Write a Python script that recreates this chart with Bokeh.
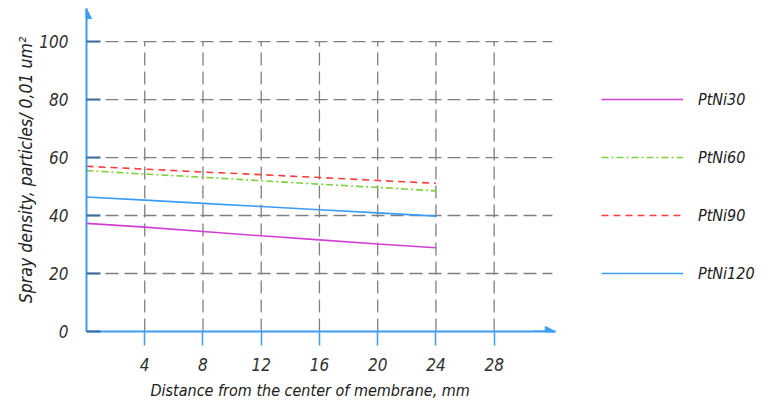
from bokeh.plotting import figure
from bokeh.models import (Range1d, FixedTicker, Legend, LegendItem, Arrow, NormalHead,
                          ColumnDataSource, Title)
from bokeh.embed import file_html
from bokeh.resources import INLINE

# ---- data ----
distance = [0, 4, 8, 12, 16, 20, 24]
ptni30 = [37.3, 36.0, 34.5, 33.0, 31.6, 30.2, 28.9]
ptni60 = [55.5, 54.3, 53.2, 52.0, 50.8, 49.7, 48.5]
ptni90 = [57.0, 56.0, 55.0, 54.1, 53.1, 52.1, 51.1]
ptni120 = [46.4, 45.3, 44.2, 43.1, 42.0, 40.9, 39.8]
series_names = ["PtNi30", "PtNi60", "PtNi90", "PtNi120"]
x_ticks = [4, 8, 12, 16, 20, 24, 28]
y_ticks = [0, 20, 40, 60, 80, 100]
x_label = "Distance from the center of membrane, mm"
y_label = "Spray density, particles/ 0,01 um\u00b2"

FONT = "DejaVu Sans Condensed, DejaVu Sans"
AXIS_BLUE = "#3f9cf5"
GRID_GRAY = "#7f7f7f"
X_AXIS_END = 32.2      # end of the drawn x axis (arrow tip)
X_FRAME_END = 46.5     # frame extends further right to hold the legend
Y_END = 111.4

p = figure(width=763, height=406, output_backend="svg", toolbar_location=None,
           x_range=Range1d(0, X_FRAME_END), y_range=Range1d(0, Y_END),
           min_border_left=86, min_border_right=0, min_border_top=8,
           min_border_bottom=75, outline_line_color=None)

# grids (drawn as dashed segments limited to the chart area)
p.xgrid.visible = False
p.ygrid.visible = False
grid_y = y_ticks[1:]
hsrc = ColumnDataSource(dict(y=grid_y, x0=[0] * len(grid_y),
                             x1=[X_AXIS_END - 0.2] * len(grid_y)))
p.segment(x0="x0", y0="y", x1="x1", y1="y", source=hsrc,
          line_color=GRID_GRAY, line_dash="13 6", line_width=1.3)
vsrc = ColumnDataSource(dict(x=x_ticks, y0=[0] * len(x_ticks),
                             y1=[max(y_ticks)] * len(x_ticks)))
p.segment(x0="x", y0="y0", x1="x", y1="y1", source=vsrc,
          line_color=GRID_GRAY, line_dash="13 6", line_width=1.3)

# axes
for ax in (p.xaxis[0], p.yaxis[0]):
    ax.axis_line_color = AXIS_BLUE
    ax.axis_line_width = 2
    ax.major_label_text_font = FONT
    ax.major_label_text_font_style = "italic"
    ax.major_label_text_font_size = "17px"
    ax.major_label_text_color = "#303030"
    ax.axis_label_text_font = FONT
    ax.axis_label_text_font_style = "italic"
    ax.axis_label_text_font_size = "17.5px"
    ax.axis_label_text_color = "#202020"
    ax.minor_tick_line_color = None

p.xaxis.bounds = (0, X_AXIS_END)
p.xaxis.ticker = FixedTicker(ticks=x_ticks)
p.xaxis.major_tick_line_color = AXIS_BLUE
p.xaxis.major_tick_line_width = 1.5
p.xaxis.major_tick_out = 14
p.xaxis.major_tick_in = 0
p.xaxis.major_label_standoff = 12

p.yaxis.ticker = FixedTicker(ticks=y_ticks)
p.yaxis.major_tick_line_color = "#3d6e9e"
p.yaxis.major_tick_line_width = 2
p.yaxis.major_tick_out = 0
p.yaxis.major_tick_in = 14
p.yaxis.major_label_standoff = 18
p.yaxis.axis_label = y_label
p.yaxis.axis_label_standoff = 0

# x axis title, left-aligned under the chart area
p.add_layout(Title(text=x_label, align="left", offset=64, standoff=11,
                   text_font=FONT, text_font_style="italic",
                   text_font_size="16px", text_color="#202020"), "below")

# arrow heads on axes
p.add_layout(Arrow(end=NormalHead(size=10, fill_color=AXIS_BLUE, line_color=AXIS_BLUE),
                   x_start=0, y_start=Y_END - 4, x_end=0, y_end=Y_END,
                   line_color=AXIS_BLUE, line_width=2))
p.add_layout(Arrow(end=NormalHead(size=10, fill_color=AXIS_BLUE, line_color=AXIS_BLUE),
                   x_start=X_AXIS_END - 1.5, y_start=0, x_end=X_AXIS_END, y_end=0,
                   line_color=AXIS_BLUE, line_width=2))

# series
r30 = p.line(distance, ptni30, line_color="#d23fd2", line_width=1.6)
r60 = p.line(distance, ptni60, line_color="#7fd13b", line_width=1.6, line_dash="7 3 2 3")
r90 = p.line(distance, ptni90, line_color="#ff3b3b", line_width=1.6, line_dash="7 5")
r120 = p.line(distance, ptni120, line_color="#3a9cf7", line_width=1.6)

legend = Legend(items=[LegendItem(label=n, renderers=[r]) for n, r in
                       zip(series_names, [r30, r60, r90, r120])],
                location=(515, 48), padding=0, margin=0, spacing=38,
                glyph_width=82, glyph_height=20, label_height=20,
                label_standoff=15, border_line_color=None,
                background_fill_alpha=0,
                label_text_font=FONT, label_text_font_style="italic",
                label_text_font_size="16px", label_text_color="#202020")
p.add_layout(legend)

open("out.html", "w").write(file_html(p, INLINE))
